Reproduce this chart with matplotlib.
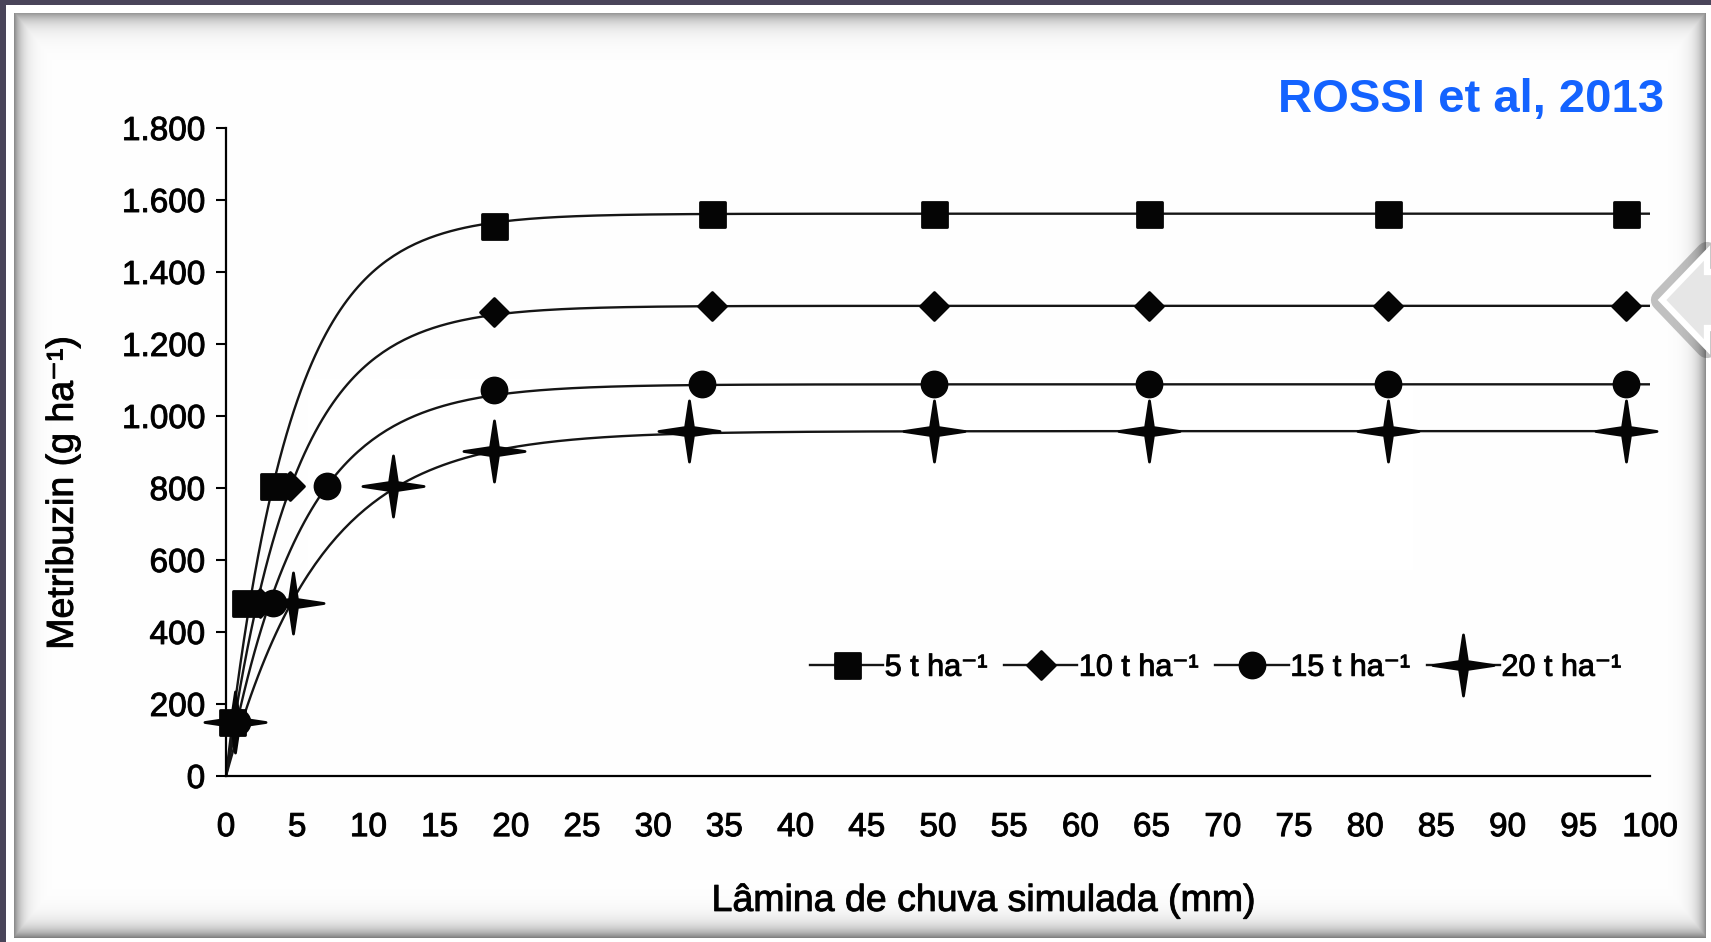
import numpy as np
import matplotlib
matplotlib.use("Agg")
import matplotlib.pyplot as plt
import matplotlib.patheffects as pe
from matplotlib.path import Path
from matplotlib.markers import MarkerStyle
from matplotlib.patches import Polygon

plt.rcParams['font.family'] = ['Liberation Sans', 'DejaVu Sans']

# --- data ---
series_labels = ["5 t ha⁻¹", "10 t ha⁻¹", "15 t ha⁻¹", "20 t ha⁻¹"]

x_5 = [0.4, 1.35, 3.3, 18.8, 34.1, 49.7, 64.8, 81.6, 98.3]
y_5 = [150, 480, 805, 1527, 1560, 1560, 1560, 1560, 1560]

x_10 = [0.6, 2.4, 4.5, 18.8, 34.1, 49.7, 64.8, 81.6, 98.3]
y_10 = [150, 480, 805, 1288, 1306, 1306, 1306, 1306, 1306]

x_15 = [0.8, 3.3, 7.1, 18.8, 33.4, 49.7, 64.8, 81.6, 98.3]
y_15 = [150, 480, 805, 1073, 1088, 1088, 1088, 1088, 1088]

x_20 = [0.6, 4.7, 11.7, 18.8, 32.5, 49.7, 64.8, 81.6, 98.3]
y_20 = [150, 480, 805, 903, 958, 958, 958, 958, 958]

# fitted curves y = A * (1 - exp(-k x))
fit_plateau = [1562, 1306, 1088, 958]
fit_rate = [0.22, 0.21, 0.19, 0.152]

x_ticks = list(range(0, 101, 5))
y_ticks = [0, 200, 400, 600, 800, 1000, 1200, 1400, 1600, 1800]
y_tick_labels = ["0", "200", "400", "600", "800", "1.000", "1.200", "1.400", "1.600", "1.800"]

# --- markers ---
r = 0.13
star_path = Path([(1, 0), (r, r), (0, 1), (-r, r), (-1, 0), (-r, -r), (0, -1), (r, -r), (1, 0)],
                 [Path.MOVETO] + [Path.LINETO] * 7 + [Path.CLOSEPOLY])
markers = [MarkerStyle('s', joinstyle='round'), MarkerStyle('D', joinstyle='round'),
           MarkerStyle('o'), MarkerStyle(star_path)]
msizes = [18, 14, 18, 44]
xs = [x_5, x_10, x_15, x_20]
ys = [y_5, y_10, y_15, y_20]

heavy = [pe.withStroke(linewidth=0.7, foreground='#111111')]

W, H = 1711, 942
fig = plt.figure(figsize=(W / 100, H / 100), dpi=100)

# screenshot frame background
bg = fig.add_axes([0, 0, 1, 1], zorder=-10)
img = np.ones((H, W, 3))
img[:, :] = (0.29, 0.27, 0.35)
img[5:, 6:] = 1.0
yy, xx = np.mgrid[0:H, 0:W]
inner = (xx >= 14) & (xx < 1706) & (yy >= 13) & (yy < 938)
dark = np.maximum.reduce([
    0.45 * np.exp(-(xx - 14) / 8.0),
    0.40 * np.exp(-(yy - 13) / 10.0),
    0.50 * np.exp(-(1706 - xx) / 8.0),
    0.55 * np.exp(-(938 - yy) / 10.0),
])
shade = 1 - np.where(inner, dark, 0)
for c in range(3):
    img[..., c] = np.where(inner, shade, img[..., c])
bg.imshow(img, extent=(0, W, H, 0), aspect='auto', interpolation='bilinear')
bg.set_xlim(0, W)
bg.set_ylim(H, 0)
bg.axis('off')

# side navigation arrow
arrow = [(1711, 272), (1707, 272), (1707, 253), (1662, 300), (1707, 347), (1707, 328), (1711, 328)]
bg.add_patch(Polygon(arrow, closed=False, facecolor='none', edgecolor='#333333',
                     lw=16, alpha=0.3, joinstyle='round'))
bg.add_patch(Polygon(arrow, closed=False, facecolor='#e6e6e6', edgecolor='white', lw=4.5))

# main chart
ax = fig.add_axes([226 / W, 1 - 776 / H, 1424 / W, 648 / H])
ax.set_facecolor('none')
xc = np.linspace(0, 100, 400)
for i in range(4):
    ax.plot(xc, fit_plateau[i] * (1 - np.exp(-fit_rate[i] * xc)), color='#151515', lw=1.7, zorder=2)
    ax.plot(xs[i], ys[i], ls='none', marker=markers[i], ms=msizes[i], color='#050505',
            mec='#050505', mew=2, clip_on=False, zorder=3)

# legend handles
handles = []
for i in range(4):
    h, = ax.plot([], [], color='#151515', lw=1.7, marker=markers[i], ms=msizes[i],
                 mec='#050505', mfc='#050505', mew=2)
    handles.append(h)
leg = ax.legend(handles, series_labels, loc='center left', bbox_to_anchor=(0.41, 0.167),
                ncol=4, frameon=False, fontsize=22, handlelength=2.4, handletextpad=0.05,
                columnspacing=0.55, borderpad=0, borderaxespad=0)
for t in leg.get_texts():
    t.set_path_effects(heavy)

ax.set_xlim(0, 100)
ax.set_ylim(0, 1800)
ax.set_xticks(x_ticks)
ax.set_yticks(y_ticks)
ax.set_yticklabels(y_tick_labels)
for s in ['top', 'right']:
    ax.spines[s].set_visible(False)
for s in ['left', 'bottom']:
    ax.spines[s].set_linewidth(1.6)
ax.tick_params(axis='x', length=0, pad=26, labelsize=24)
ax.tick_params(axis='y', length=7, width=1.5, pad=8, labelsize=24, direction='out')
for t in ax.get_xticklabels() + ax.get_yticklabels():
    t.set_path_effects(heavy)

ax.set_xlabel("Lâmina de chuva simulada (mm)", fontsize=27, path_effects=heavy)
ax.xaxis.set_label_coords(0.532, -0.165)
ax.set_ylabel("Metribuzin (g ha⁻¹)", fontsize=27, path_effects=heavy)
ax.yaxis.set_label_coords(-0.102, 0.437)

fig.text(1664 / W, 1 - 100 / H, "ROSSI et al, 2013", ha='right', va='center',
         fontsize=34, fontweight='bold', color='#1463FF')

fig.savefig("out.png", dpi=100)
